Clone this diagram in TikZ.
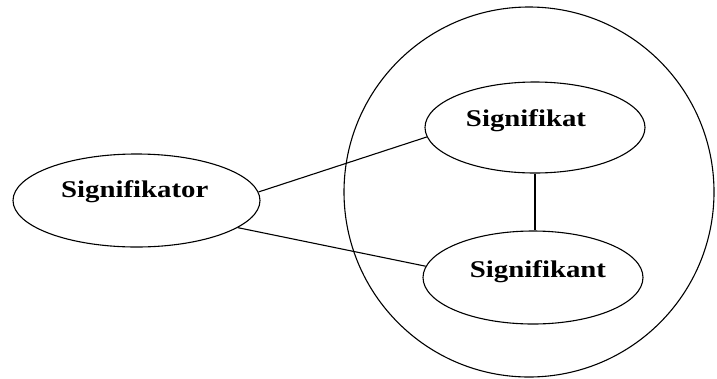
\documentclass[tikz,border=0pt]{standalone}
\usepackage{fontspec}
\setmainfont{Liberation Serif}
\usetikzlibrary{shapes.geometric}
\newcommand{\widetext}[1]{\scalebox{1.2}[1]{#1}}
\begin{document}
\begin{tikzpicture}[x=1pt,y=-1pt,
  oval/.style={draw, ellipse, line width=1.1pt, inner sep=0pt},
  lbl/.style={anchor=base, inner sep=0pt, font=\fontsize{24}{24}\selectfont\bfseries},
  conn/.style={line width=1.1pt}]
\useasboundingbox (0,0) rectangle (717,378);
\node[draw, circle, line width=1.1pt, inner sep=0pt, minimum size=370pt] (sign) at (529,192) {};
\node[oval, minimum width=247pt, minimum height=93pt] (tor) at (136.5,200.5) {};
\node[oval, minimum width=220pt, minimum height=91pt] (kat) at (535,127.5) {};
\node[oval, minimum width=220pt, minimum height=93pt] (kant) at (533,277.5) {};
\node[lbl] (tortext) at (134.7,197) {\widetext{Signifikator}};
\node[lbl] (kattext) at (526,126.7) {\widetext{Signifikat}};
\node[lbl] (kanttext) at (538,277) {\widetext{Signifikant}};
\draw[conn] (tor.4) -- (kat.185);
\draw[conn] (tor.-15) -- (kant.174);
\draw[conn] (kat.south) -- (kat.south |- kant.north);
\end{tikzpicture}
\end{document}
